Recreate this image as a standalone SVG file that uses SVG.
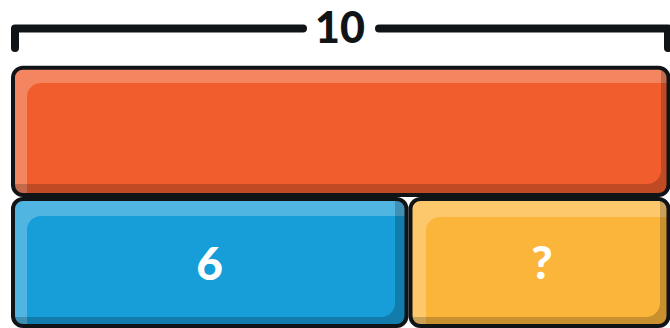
<svg xmlns="http://www.w3.org/2000/svg" width="670" height="328" viewBox="0 0 670 328">
<style>
.edge{fill:none;stroke:#111417;stroke-width:4}
.hl{fill:#ffffff;fill-opacity:0.25}
.sh{fill:#000000;fill-opacity:0.2}
.lbl{font-family:Lato,"Open Sans",sans-serif;font-weight:900;font-size:46px;text-anchor:middle}
.bracket{fill:none;stroke:#111417;stroke-width:8;stroke-linecap:round;stroke-linejoin:round}
</style>
<defs>
<clipPath id="cO"><rect x="13" y="67.7" width="655.5" height="127.3" rx="10"/></clipPath>
<clipPath id="cB"><rect x="13" y="199" width="393.5" height="127" rx="10"/></clipPath>
<clipPath id="cY"><rect x="410.5" y="199" width="258" height="127" rx="10"/></clipPath>
</defs>
<g id="connectors">
<path class="bracket" d="M15,48 V28.5 H303 M379,28.5 H668 V48"/>
</g>
<g id="total">
<text class="lbl" x="340" y="42.5" fill="#111417" style="font-size:43px">10</text>
</g>
<g id="bar-orange">
<rect x="13" y="67.7" width="655.5" height="127.3" rx="10" fill="#F15D2D"/>
<g clip-path="url(#cO)">
<path class="hl" d="M0,50 H680 V83 H41 A14,14 0 0 0 27,97 V200 H0 Z"/>
<path class="sh" d="M680,200 H0 V184 H647 A14,14 0 0 0 661,170 V50 H680 Z"/>
</g>
<rect class="edge" x="13" y="67.7" width="655.5" height="127.3" rx="10"/>
</g>
<g id="bar-blue">
<rect x="13" y="199" width="393.5" height="127" rx="10" fill="#179DD8"/>
<g clip-path="url(#cB)">
<path class="hl" d="M0,190 H420 V216 H41 A14,14 0 0 0 27,230 V330 H0 Z"/>
<path class="sh" d="M420,330 H0 V317 H381 A14,14 0 0 0 395,303 V190 H420 Z"/>
</g>
<rect class="edge" x="13" y="199" width="393.5" height="127" rx="10"/>
<text class="lbl" x="209.7" y="280" fill="#ffffff">6</text>
</g>
<g id="bar-yellow">
<rect x="410.5" y="199" width="258" height="127" rx="10" fill="#FCB53B"/>
<g clip-path="url(#cY)">
<path class="hl" d="M400,190 H680 V217 H440 A14,14 0 0 0 426,231 V330 H400 Z"/>
<path class="sh" d="M680,330 H400 V317 H646 A14,14 0 0 0 660,303 V190 H680 Z"/>
</g>
<rect class="edge" x="410.5" y="199" width="258" height="127" rx="10"/>
<text class="lbl" x="542" y="279" fill="#ffffff">?</text>
</g>
</svg>
